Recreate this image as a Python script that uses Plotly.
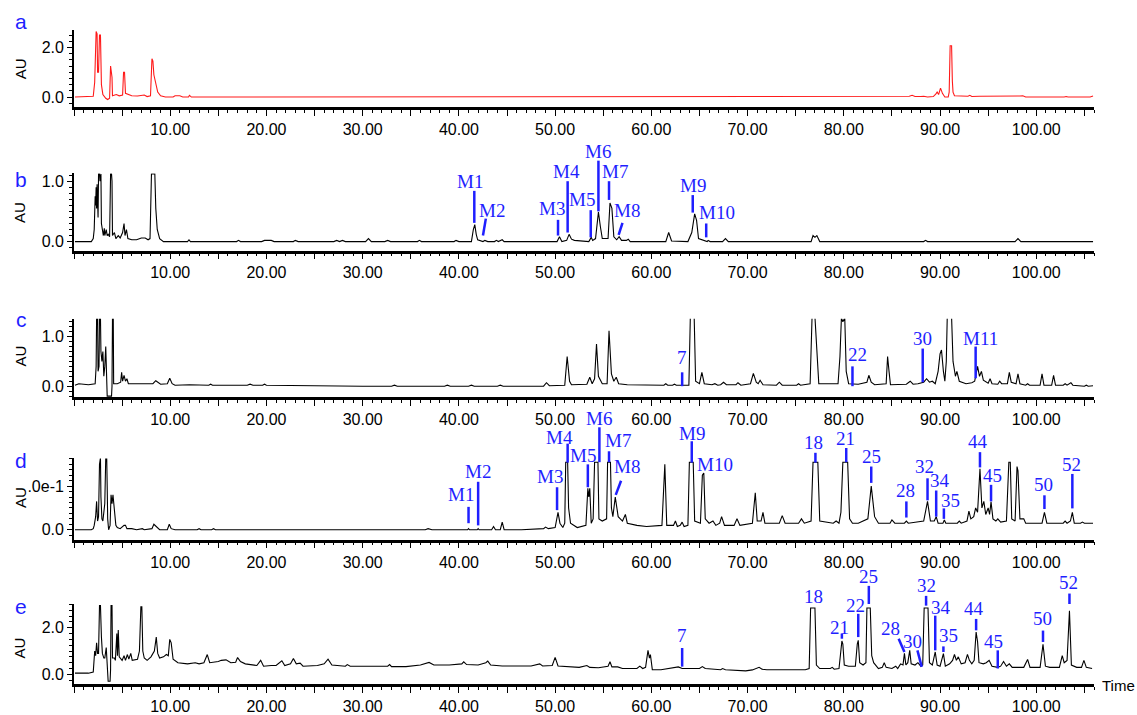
import plotly.graph_objects as go

# ------------------------------------------------------------------ data
# Chromatogram vertices (retention time in min, absorbance in AU)
A_TIME = [0.1, 1.5, 1.6, 2.0, 2.15, 2.3, 2.4, 2.45, 2.55, 2.65,
          2.75, 2.85, 3.0, 3.3, 3.5, 3.7, 3.8, 3.88, 3.95, 4.0,
          4.4, 4.7, 5.05, 5.15, 5.25, 5.35, 5.6, 6.0, 6.6, 7.0,
          7.3, 7.6, 7.95, 8.1, 8.2, 8.3, 8.45, 8.7, 9.0, 9.5,
          10.3, 10.5, 11.0, 11.3, 11.9, 12.0, 12.2, 33.8, 34.1, 34.4,
          74.2, 74.4, 74.6, 74.8, 78.4, 78.6, 79.0, 79.2, 79.4, 84.4,
          84.6, 84.9, 85.6, 86.0, 86.8, 87.1, 87.4, 88.0, 88.3, 88.7,
          89.3, 89.55, 89.7, 89.85, 90.05, 90.25, 90.5, 90.85, 90.95, 91.05,
          91.2, 91.28, 91.35, 91.5, 92.9, 93.1, 93.3, 94.1, 94.4, 96.2,
          96.6, 97.5, 98.3, 98.6, 98.9, 102.9, 103.1, 103.3, 105.6, 105.9]
A_AU = [0.0, 0.0, 0.02, 0.03, 0.6, 2.65, 2.55, 1.0, 1.0, 2.5,
        2.5, 0.5, 0.1, -0.05, -0.1, -0.05, 1.25, 0.8, 0.8, 0.05,
        0.1, 0.05, 0.08, 1.0, 1.0, 0.15, 0.12, 0.05, 0.04, 0.08,
        0.08, 0.02, 0.05, 1.55, 1.45, 0.9, 0.6, 0.2, 0.05, 0.0,
        0.0, 0.05, 0.05, 0.0, 0.0, 0.07, 0.0, 0.0, 0.03, 0.0,
        0.0, 0.03, 0.03, 0.0, 0.0, 0.03, 0.0, 0.03, 0.0, 0.0,
        0.03, 0.0, 0.02, 0.0, 0.03, 0.07, 0.02, 0.02, 0.03, 0.0,
        0.02, 0.12, 0.2, 0.1, 0.36, 0.15, 0.0, 0.0, 0.2, 2.07,
        2.07, 0.65, 0.2, 0.05, 0.03, 0.07, 0.02, 0.03, 0.03, 0.02,
        0.03, 0.01, 0.04, 0.05, 0.0, 0.0, 0.02, 0.0, 0.0, 0.04]

B_TIME = [0.1, 1.8, 2.0, 2.1, 2.2, 2.25, 2.3, 2.35, 2.4, 2.45,
          2.5, 2.55, 2.65, 2.7, 2.8, 2.85, 2.95, 3.05, 3.15, 3.2,
          3.35, 3.45, 3.55, 3.7, 3.8, 3.9, 3.95, 4.0, 4.2, 4.35,
          4.6, 4.8, 5.05, 5.2, 5.3, 5.45, 5.6, 6.0, 6.5, 7.0,
          7.4, 7.7, 7.9, 8.05, 8.4, 8.5, 8.65, 8.9, 9.3, 11.8,
          11.95, 12.1, 16.9, 17.1, 17.3, 19.5, 19.8, 20.5, 20.8, 22.8,
          23.0, 23.3, 27.0, 27.3, 27.6, 27.9, 28.2, 30.3, 30.6, 30.9,
          32.3, 32.6, 32.9, 35.7, 35.9, 36.1, 39.5, 39.7, 40.0, 41.3,
          41.5, 41.65, 41.8, 41.95, 42.5, 42.7, 43.0, 43.7, 43.9, 44.1,
          44.5, 44.7, 50.2, 50.45, 50.7, 51.2, 51.45, 51.7, 52.0, 53.5,
          53.75, 53.9, 54.2, 54.5, 54.7, 54.9, 55.5, 55.7, 55.9, 56.1,
          56.4, 56.65, 56.9, 57.4, 57.6, 57.8, 61.5, 61.8, 62.1, 63.8,
          64.2, 64.5, 64.7, 64.9, 65.8, 65.9, 66.1, 67.4, 67.7, 68.0,
          76.6, 76.8, 77.0, 77.2, 77.5, 88.3, 88.5, 88.7, 97.8, 98.1,
          98.4, 105.9]
B_AU = [0.0, 0.0, 0.05, 0.2, 0.75, 0.6, 0.9, 0.55, 0.95, 0.5,
        0.4, 1.12, 1.12, 1.0, 1.12, 0.3, 0.15, 0.1, 0.22, 0.1,
        0.2, 0.1, 0.12, 0.08, 1.12, 1.12, 1.0, 0.1, 0.15, 0.05,
        0.1, 0.06, 0.15, 0.3, 0.1, 0.2, 0.05, 0.03, 0.03, 0.06,
        0.06, 0.03, 0.05, 1.12, 1.12, 0.55, 0.2, 0.05, 0.0, 0.0,
        0.03, 0.0, 0.0, 0.02, 0.0, 0.0, 0.02, 0.02, 0.0, 0.0,
        0.02, 0.0, 0.0, 0.02, 0.0, 0.02, 0.0, 0.0, 0.05, 0.0,
        0.0, 0.02, 0.0, 0.0, 0.02, 0.0, 0.0, 0.02, 0.0, 0.0,
        0.2, 0.28, 0.12, 0.03, 0.0, 0.02, 0.0, 0.0, 0.02, 0.0,
        0.03, 0.0, 0.0, 0.08, 0.0, 0.02, 0.12, 0.04, 0.02, 0.0,
        0.07, 0.02, 0.05, 0.49, 0.25, 0.05, 0.05, 0.64, 0.55, 0.08,
        0.03, 0.08, 0.02, 0.02, 0.04, 0.0, 0.0, 0.15, 0.01, 0.0,
        0.15, 0.46, 0.35, 0.05, 0.0, 0.02, 0.0, 0.0, 0.05, 0.0,
        0.0, 0.1, 0.07, 0.1, 0.0, 0.0, 0.02, 0.0, 0.0, 0.05,
        0.0, 0.0]

C_TIME = [0.1, 0.5, 1.5, 2.2, 2.3, 2.35, 2.45, 2.5, 2.6, 2.65,
          2.75, 2.8, 2.9, 3.0, 3.1, 3.2, 3.3, 3.35, 3.45, 3.9,
          3.95, 4.0, 4.08, 4.12, 4.5, 4.85, 4.95, 5.05, 5.2, 5.35,
          5.5, 5.65, 8.2, 8.5, 8.8, 9.0, 9.7, 9.95, 10.2, 10.5,
          12.0, 14.0, 14.2, 14.4, 18.0, 18.3, 18.6, 19.6, 19.8, 20.0,
          30.0, 33.0, 33.3, 33.6, 38.5, 38.8, 39.1, 41.0, 41.3, 41.6,
          44.0, 44.3, 44.6, 48.8, 49.1, 49.4, 51.0, 51.25, 51.5, 51.7,
          53.3, 53.6, 53.85, 54.1, 54.3, 54.5, 54.9, 55.4, 55.6, 55.85,
          56.1, 56.35, 56.6, 57.5, 61.3, 61.5, 61.7, 62.2, 62.4, 62.6,
          63.9, 64.05, 64.45, 64.6, 65.0, 65.25, 65.5, 66.3, 66.6, 66.9,
          67.2, 67.5, 67.8, 68.8, 69.0, 69.3, 70.3, 70.6, 70.9, 71.1,
          71.3, 71.6, 73.0, 73.3, 73.6, 75.1, 75.3, 75.5, 76.5, 76.7,
          77.0, 77.2, 77.4, 79.4, 79.6, 79.75, 79.9, 80.1, 80.25, 80.5,
          81.5, 82.4, 82.6, 82.85, 83.2, 84.4, 84.55, 84.7, 84.85, 86.5,
          86.9, 87.2, 87.7, 88.3, 88.6, 88.9, 89.2, 89.5, 89.8, 90.0,
          90.15, 90.35, 90.5, 90.65, 90.75, 91.2, 91.35, 91.6, 91.75, 92.0,
          92.7, 93.3, 93.6, 93.9, 94.1, 94.3, 94.5, 95.0, 95.2, 95.4,
          96.0, 96.2, 96.4, 97.0, 97.2, 97.4, 97.9, 98.1, 98.3, 98.9,
          99.1, 99.3, 100.4, 100.6, 100.8, 101.6, 101.8, 102.0, 102.8, 103.0,
          103.2, 103.6, 103.8, 105.0, 105.2, 105.4, 105.9]
C_AU = [0.02, 0.05, 0.03, 0.05, 0.4, 1.4, 1.4, 0.3, 0.4, 1.4,
        1.4, 0.7, 0.5, 0.7, 0.2, 0.4, 0.8, 0.2, -0.2, -0.2,
        0.0, 1.4, 1.4, 0.05, 0.05, 0.08, 0.28, 0.1, 0.22, 0.1,
        0.15, 0.05, 0.05, 0.11, 0.06, 0.04, 0.05, 0.16, 0.05, 0.02,
        0.03, 0.02, 0.04, 0.02, 0.02, 0.04, 0.02, 0.02, 0.04, 0.02,
        0.0, 0.0, 0.02, 0.0, 0.0, 0.02, 0.0, 0.0, 0.02, 0.0,
        0.0, 0.02, 0.0, 0.0, 0.07, 0.01, 0.02, 0.6, 0.1, 0.03,
        0.04, 0.18, 0.05, 0.15, 0.85, 0.2, 0.05, 0.05, 1.12, 0.25,
        0.1, 0.18, 0.05, 0.03, 0.02, 0.05, 0.02, 0.02, 0.04, 0.02,
        0.02, 1.4, 1.4, 0.1, 0.05, 0.28, 0.05, 0.03, 0.05, 0.02,
        0.03, 0.08, 0.03, 0.03, 0.07, 0.02, 0.05, 0.26, 0.08, 0.05,
        0.12, 0.03, 0.02, 0.08, 0.02, 0.02, 0.05, 0.02, 0.05, 1.4,
        1.4, 0.6, 0.05, 0.05, 0.6, 1.38, 1.3, 1.38, 0.3, 0.05,
        0.04, 0.08, 0.22, 0.08, 0.03, 0.05, 0.6, 0.3, 0.03, 0.04,
        0.1, 0.04, 0.05, 0.08, 0.15, 0.08, 0.1, 0.05, 0.3, 0.65,
        0.73, 0.3, 0.1, 0.5, 1.4, 1.4, 0.5, 0.2, 0.3, 0.1,
        0.05, 0.07, 0.1, 0.4, 0.2, 0.3, 0.12, 0.06, 0.15, 0.05,
        0.04, 0.1, 0.05, 0.05, 0.28, 0.08, 0.05, 0.25, 0.05, 0.02,
        0.05, 0.02, 0.02, 0.25, 0.02, 0.02, 0.22, 0.02, 0.02, 0.05,
        0.02, 0.07, 0.02, 0.0, 0.02, 0.0, 0.01]

D_TIME = [0.1, 1.8, 2.0, 2.1, 2.25, 2.35, 2.45, 2.55, 2.65, 2.75,
          2.8, 2.9, 3.0, 3.1, 3.2, 3.3, 3.4, 3.45, 3.5, 3.6,
          3.75, 3.85, 3.95, 4.05, 4.15, 4.25, 4.35, 4.5, 4.8, 5.2,
          5.35, 5.5, 6.0, 6.5, 7.1, 7.3, 8.1, 8.3, 8.5, 8.7,
          8.9, 9.7, 9.9, 10.1, 10.5, 12.8, 13.0, 13.2, 14.3, 14.5,
          14.7, 36.5, 36.8, 37.2, 40.9, 41.0, 41.1, 41.9, 42.0, 42.1,
          43.4, 43.6, 43.8, 44.3, 44.5, 44.7, 46.5, 48.8, 49.0, 49.3,
          50.0, 50.3, 50.5, 50.8, 51.0, 51.1, 51.3, 51.4, 51.6, 52.3,
          53.2, 53.4, 53.5, 53.6, 53.75, 53.95, 54.1, 54.45, 54.55, 54.9,
          55.35, 55.45, 55.75, 55.85, 56.0, 56.25, 56.4, 56.55, 57.0, 57.3,
          57.5, 58.5, 59.5, 61.1, 61.4, 61.6, 62.3, 62.5, 62.7, 63.0,
          63.2, 63.4, 63.8, 63.95, 64.35, 64.5, 65.1, 65.3, 65.45, 65.6,
          66.0, 66.4, 66.7, 67.1, 67.3, 67.6, 68.6, 68.9, 69.2, 70.5,
          70.8, 71.0, 71.4, 71.6, 71.8, 73.3, 73.6, 73.9, 75.3, 75.6,
          75.9, 76.6, 76.8, 77.3, 77.5, 78.9, 79.2, 79.5, 79.7, 79.9,
          80.4, 80.6, 80.9, 81.5, 82.5, 82.85, 83.2, 83.6, 84.8, 85.0,
          85.3, 86.3, 86.5, 86.7, 88.3, 88.7, 89.0, 89.4, 89.6, 89.8,
          90.3, 90.45, 90.6, 91.8, 92.0, 92.2, 92.8, 93.0, 93.2, 93.5,
          93.7, 93.9, 94.15, 94.35, 94.55, 94.75, 95.0, 95.15, 95.3, 95.5,
          95.8, 96.0, 96.3, 96.9, 97.15, 97.3, 97.45, 97.8, 98.0, 98.1,
          98.3, 98.7, 98.9, 100.6, 100.85, 101.1, 102.8, 103.0, 103.2, 103.55,
          103.75, 103.95, 104.6, 104.8, 105.0, 105.9]
D_AU = [0.0, 0.0, 0.005, 0.02, 0.06, 0.13, 0.04, 0.06, 0.3, 0.33,
        0.15, 0.05, 0.04, 0.1, 0.12, 0.33, 0.33, 0.2, 0.05, 0.0,
        0.02, 0.16, 0.12, 0.16, 0.1, 0.06, 0.02, 0.01, 0.005, 0.02,
        0.02, 0.005, 0.005, 0.0, 0.005, 0.0, 0.005, 0.025, 0.015, 0.01,
        0.0, 0.0, 0.025, 0.005, 0.0, 0.0, 0.005, 0.0, 0.0, 0.005,
        0.0, 0.0, 0.005, 0.0, 0.0, 0.005, 0.0, 0.0, 0.005, 0.0,
        0.0, 0.015, 0.0, 0.0, 0.035, 0.0, 0.0, 0.005, 0.012, 0.005,
        0.01, 0.08, 0.03, 0.01, 0.03, 0.31, 0.31, 0.1, 0.03, 0.01,
        0.02, 0.19, 0.15, 0.19, 0.03, 0.05, 0.31, 0.31, 0.05, 0.04,
        0.05, 0.31, 0.31, 0.1, 0.06, 0.15, 0.1, 0.06, 0.04, 0.07,
        0.03, 0.02, 0.015, 0.02, 0.3, 0.02, 0.02, 0.04, 0.015, 0.02,
        0.035, 0.015, 0.02, 0.31, 0.31, 0.04, 0.03, 0.25, 0.26, 0.05,
        0.03, 0.04, 0.02, 0.03, 0.06, 0.02, 0.02, 0.05, 0.02, 0.03,
        0.17, 0.04, 0.04, 0.08, 0.03, 0.03, 0.065, 0.03, 0.03, 0.05,
        0.03, 0.04, 0.31, 0.31, 0.04, 0.03, 0.04, 0.03, 0.08, 0.31,
        0.31, 0.05, 0.03, 0.03, 0.05, 0.2, 0.06, 0.03, 0.03, 0.045,
        0.03, 0.03, 0.04, 0.03, 0.04, 0.13, 0.04, 0.04, 0.06, 0.03,
        0.03, 0.045, 0.03, 0.03, 0.04, 0.03, 0.04, 0.085, 0.05, 0.06,
        0.1, 0.08, 0.28, 0.1, 0.13, 0.07, 0.1, 0.07, 0.128, 0.05,
        0.04, 0.05, 0.035, 0.04, 0.31, 0.31, 0.05, 0.04, 0.29, 0.27,
        0.05, 0.05, 0.03, 0.03, 0.08, 0.03, 0.03, 0.04, 0.03, 0.04,
        0.08, 0.03, 0.03, 0.035, 0.03, 0.03]

E_TIME = [0.1, 1.5, 2.0, 2.15, 2.25, 2.35, 2.45, 2.55, 2.65, 2.75,
          2.85, 2.95, 3.1, 3.2, 3.35, 3.45, 3.55, 3.75, 3.8, 3.85,
          3.95, 4.0, 4.2, 4.3, 4.45, 4.52, 4.6, 4.7, 5.0, 5.2,
          5.35, 5.55, 5.7, 5.9, 6.05, 6.6, 6.8, 6.95, 7.05, 7.15,
          7.3, 7.6, 8.0, 8.35, 8.55, 8.7, 8.9, 9.3, 9.6, 9.8,
          9.95, 10.1, 10.3, 10.8, 11.8, 12.6, 13.0, 13.5, 13.85, 14.1,
          15.0, 15.3, 15.8, 16.3, 16.8, 17.0, 17.3, 17.8, 18.5, 19.0,
          19.4, 19.7, 20.5, 21.0, 21.6, 21.9, 22.5, 22.8, 23.1, 23.5,
          23.8, 25.3, 26.0, 26.4, 26.8, 28.2, 28.4, 28.7, 30.5, 32.6,
          32.8, 33.0, 34.5, 36.0, 36.9, 37.4, 39.0, 40.3, 40.5, 40.8,
          42.0, 42.8, 43.0, 43.3, 44.5, 47.5, 48.4, 48.7, 49.7, 50.0,
          50.3, 51.5, 52.5, 53.3, 53.6, 54.5, 55.5, 55.7, 55.9, 56.5,
          57.0, 58.5, 58.8, 59.1, 59.4, 59.65, 59.8, 59.9, 60.1, 61.0,
          62.0, 62.5, 62.8, 63.2, 65.0, 65.3, 65.6, 67.2, 67.4, 67.7,
          69.8, 70.5, 71.0, 71.2, 71.5, 72.0, 73.0, 74.5, 76.0, 76.4,
          76.55, 77.0, 77.15, 77.5, 78.6, 78.8, 79.0, 79.5, 79.7, 79.8,
          79.9, 80.05, 80.5, 81.2, 81.4, 81.5, 81.65, 82.0, 82.3, 82.4,
          82.75, 82.9, 83.1, 83.6, 84.0, 84.2, 84.4, 85.0, 85.4, 85.6,
          85.9, 86.15, 86.3, 86.45, 86.65, 86.85, 87.0, 87.4, 87.7, 88.0,
          88.2, 88.35, 88.75, 88.9, 89.2, 89.5, 89.7, 90.0, 90.35, 90.55,
          91.0, 91.3, 91.5, 91.7, 91.9, 92.2, 92.6, 92.85, 93.05, 93.3,
          93.55, 93.75, 93.9, 94.05, 94.5, 94.8, 95.1, 95.4, 96.0, 96.3,
          96.6, 96.9, 97.2, 97.5, 98.7, 99.1, 99.35, 100.4, 100.7, 100.95,
          101.4, 102.4, 102.7, 102.9, 103.2, 103.45, 103.65, 104.2, 104.7, 104.95,
          105.2, 105.8]
E_AU = [0.05, 0.05, 0.1, 1.0, 0.8, 1.35, 0.9, 0.9, 2.95, 2.95,
        1.6, 0.9, 0.7, 0.7, 1.15, 0.3, -0.3, -0.3, 0.2, 2.95,
        2.95, 0.7, 0.7, 0.6, 1.75, 0.8, 1.9, 0.75, 0.6, 0.8,
        0.6, 0.85, 0.65, 0.9, 0.6, 0.65, 1.0, 2.9, 2.9, 1.0,
        0.7, 0.6, 0.75, 1.0, 1.6, 0.9, 0.7, 0.75, 0.85, 0.8,
        1.5, 1.35, 0.65, 0.5, 0.45, 0.5, 0.45, 0.5, 0.85, 0.5,
        0.55, 0.6, 0.62, 0.5, 0.52, 0.72, 0.55, 0.45, 0.4, 0.38,
        0.6, 0.35, 0.38, 0.38, 0.58, 0.38, 0.45, 0.68, 0.45, 0.48,
        0.35, 0.38, 0.45, 0.65, 0.4, 0.35, 0.42, 0.35, 0.35, 0.35,
        0.42, 0.33, 0.33, 0.4, 0.51, 0.4, 0.4, 0.45, 0.54, 0.42,
        0.4, 0.5, 0.57, 0.4, 0.36, 0.36, 0.45, 0.36, 0.38, 0.73,
        0.36, 0.33, 0.3, 0.38, 0.3, 0.28, 0.35, 0.54, 0.32, 0.32,
        0.25, 0.25, 0.35, 0.25, 0.3, 1.03, 0.7, 0.85, 0.2, 0.2,
        0.25, 0.3, 0.32, 0.25, 0.25, 0.33, 0.25, 0.2, 0.25, 0.2,
        0.15, 0.19, 0.25, 0.3, 0.22, 0.2, 0.2, 0.2, 0.2, 0.25,
        2.85, 2.85, 0.4, 0.25, 0.25, 0.3, 0.22, 0.25, 1.1, 1.43,
        1.3, 0.4, 0.35, 0.35, 1.3, 1.46, 0.5, 0.4, 0.5, 2.85,
        2.85, 0.8, 0.5, 0.25, 0.3, 0.5, 0.3, 0.25, 0.35, 0.25,
        0.45, 0.4, 0.9, 0.4, 0.5, 1.03, 0.45, 0.4, 0.5, 0.35,
        0.4, 2.85, 2.85, 0.5, 0.4, 0.96, 0.4, 0.35, 0.89, 0.35,
        0.45, 0.6, 0.85, 0.6, 0.75, 0.45, 0.5, 0.86, 0.6, 0.45,
        0.6, 1.82, 1.4, 0.5, 0.45, 0.5, 0.6, 0.35, 0.3, 0.35,
        0.55, 0.35, 0.45, 0.3, 0.3, 0.64, 0.3, 0.3, 1.29, 0.35,
        0.3, 0.3, 0.8, 0.5, 0.6, 2.73, 0.4, 0.3, 0.3, 0.6,
        0.3, 0.25]

PANEL_LETTERS = ["a", "b", "c", "d", "e"]
Y_TICK_VALUES = [[0.0, 2.0], [0.0, 1.0], [0.0, 1.0], [0.0, 0.2], [0.0, 2.0]]
Y_TICK_TEXT = [["0.0", "2.0"], ["0.0", "1.0"], ["0.0", "1.0"], ["0.0", ".0e-1"], ["0.0", "2.0"]]
X_LABELLED_TIMES = [10, 20, 30, 40, 50, 60, 70, 80, 90, 100]

# peak labels: name, marker line (t0, v0, t1, v1), text position (t, v)
B_NAMES = ["M1", "M2", "M3", "M4", "M5", "M6", "M7", "M8", "M9", "M10"]
B_LINES = [(41.6, 0.31, 41.6, 0.84), (42.5, 0.1, 42.8, 0.38), (50.3, 0.1, 50.3, 0.36),
           (51.3, 0.15, 51.3, 1.0), (53.7, 0.07, 53.7, 0.52), (54.5, 0.5, 54.5, 1.34),
           (55.6, 0.69, 55.6, 1.0), (56.6, 0.11, 57.0, 0.31), (64.3, 0.48, 64.3, 0.77),
           (65.7, 0.07, 65.7, 0.3)]
B_TEXT = [(41.2, 1.0), (43.4, 0.52), (49.7, 0.54), (51.2, 1.16), (52.8, 0.7),
          (54.5, 1.49), (56.2, 1.16), (57.5, 0.52), (64.3, 0.93), (66.8, 0.48)]

C_NAMES = ["7", "22", "30", "M11"]
C_LINES = [(63.2, 0.0, 63.2, 0.28), (80.9, 0.0, 80.9, 0.4), (88.2, 0.08, 88.2, 0.76),
           (93.7, 0.16, 93.7, 0.8)]
C_TEXT = [(63.2, 0.58), (81.4, 0.64), (88.2, 0.97), (94.2, 0.97)]

D_NAMES = ["M1", "M2", "M3", "M4", "M5", "M6", "M7", "M8", "M9", "M10",
           "18", "21", "25", "28", "32", "34", "35", "44", "45", "50", "52"]
D_LINES = [(41.0, 0.03, 41.0, 0.105), (42.0, 0.02, 42.0, 0.22), (50.2, 0.09, 50.2, 0.195),
           (51.3, 0.308, 51.3, 0.395), (53.4, 0.195, 53.4, 0.30), (54.6, 0.31, 54.6, 0.47),
           (55.6, 0.31, 55.6, 0.36), (56.3, 0.16, 56.85, 0.225), (64.2, 0.308, 64.2, 0.406),
           None,
           (77.05, 0.308, 77.05, 0.353), (80.25, 0.31, 80.25, 0.375), (82.85, 0.215, 82.85, 0.29),
           (86.5, 0.056, 86.5, 0.13), (88.7, 0.135, 88.7, 0.236), (89.6, 0.06, 89.6, 0.18),
           (90.4, 0.05, 90.4, 0.098), (94.15, 0.286, 94.15, 0.356), (95.3, 0.13, 95.3, 0.206),
           (100.85, 0.095, 100.85, 0.158), (103.75, 0.098, 103.75, 0.256)]
D_TEXT = [(40.2, 0.16), (42.0, 0.265), (49.5, 0.244), (50.5, 0.422), (52.9, 0.34),
          (54.6, 0.51), (56.5, 0.41), (57.5, 0.29), (64.2, 0.44), (66.6, 0.30),
          (76.9, 0.40), (80.2, 0.42), (82.85, 0.335), (86.4, 0.182), (88.4, 0.29),
          (90.0, 0.225), (91.1, 0.133), (93.9, 0.406), (95.4, 0.25), (100.8, 0.206), (103.7, 0.30)]

E_NAMES = ["7", "18", "21", "22", "25", "28", "30", "32", "34", "35", "44", "45", "50", "52"]
E_LINES = [(63.2, 0.33, 63.2, 1.13), None, (79.8, 1.53, 79.8, 1.75), (81.5, 1.6, 81.5, 2.6),
           (82.6, 3.02, 82.6, 3.8), (85.7, 1.53, 86.3, 0.96), (87.65, 1.03, 88.1, 0.32),
           (88.55, 2.95, 88.55, 3.37), (89.5, 1.03, 89.5, 2.52), (90.35, 0.96, 90.35, 1.2),
           (93.75, 1.89, 93.75, 2.38), (96.0, 0.25, 96.0, 1.03), (100.7, 1.39, 100.7, 1.88),
           (103.45, 3.02, 103.45, 3.47)]
E_TEXT = [(63.2, 1.68), (76.8, 3.33), (79.6, 2.02), (81.2, 2.97), (82.55, 4.2), (84.9, 1.98),
          (87.1, 1.4), (88.55, 3.8), (90.1, 2.85), (90.9, 1.67), (93.5, 2.81), (95.6, 1.43),
          (100.65, 2.38), (103.4, 3.94)]

# ------------------------------------------------------------------ layout settings
W, H = 1137, 715
X_LEFT_PX, X_RIGHT_PX = 74, 1094
X_RANGE = [0, 106]
PANEL_TOP_PX = [30, 175, 322, 463, 610]
PANEL_BOTTOM_PX = [108, 253, 401, 545, 691]
Y_RANGES = [(-0.4, 2.72), (-0.148, 1.131), (-0.22, 1.36), (-0.0455, 0.327), (-0.4255, 3.02)]
Y_MINOR_STEP = [0.25, 0.1, 0.1, 0.025, 0.25]
LETTER_Y_PX = [22, 181, 323, 465, 612]
AU_Y_PX = [70, 215, 360, 503, 655]
TRACE_COLORS = ["#ff1a1a", "black", "black", "black", "black"]
BLUE = "#1f1fff"
SANS = "Liberation Sans, Arial, sans-serif"
SERIF = "Liberation Serif, Times New Roman, serif"

SERIES = [(A_TIME, A_AU), (B_TIME, B_AU), (C_TIME, C_AU), (D_TIME, D_AU), (E_TIME, E_AU)]
LABELS = [None, (B_NAMES, B_LINES, B_TEXT), (C_NAMES, C_LINES, C_TEXT),
          (D_NAMES, D_LINES, D_TEXT), (E_NAMES, E_LINES, E_TEXT)]

fig = go.Figure()
layout = {}
annotations = []
shapes = []

major_x = list(range(0, 110, 5))
major_x_text = [f"{v:.2f}" if v in X_LABELLED_TIMES else "" for v in major_x]

for i in range(5):
    n = "" if i == 0 else str(i + 1)
    t, v = SERIES[i]
    fig.add_trace(go.Scatter(x=t, y=v, mode="lines",
                             line=dict(color=TRACE_COLORS[i], width=1.1),
                             xaxis="x" + n, yaxis="y" + n,
                             showlegend=False, hoverinfo="skip"))
    ydom = [1 - PANEL_BOTTOM_PX[i] / H, 1 - PANEL_TOP_PX[i] / H]
    layout["xaxis" + n] = dict(
        domain=[X_LEFT_PX / W, X_RIGHT_PX / W], range=X_RANGE, anchor="y" + n,
        showline=True, linecolor="black", linewidth=2.5, mirror=False,
        ticks="outside", ticklen=6, tickwidth=1.3, tickcolor="black",
        tickmode="array", tickvals=major_x, ticktext=major_x_text,
        minor=dict(tickmode="linear", tick0=0, dtick=1, ticks="outside",
                   ticklen=3, tickwidth=1, tickcolor="black"),
        showgrid=False, zeroline=False,
        tickfont=dict(family=SANS, size=16, color="black"))
    layout["yaxis" + n] = dict(
        domain=ydom, range=list(Y_RANGES[i]), anchor="x" + n,
        showline=True, linecolor="black", linewidth=1.8,
        ticks="outside", ticklen=5, tickwidth=1.3, tickcolor="black",
        tickmode="array", tickvals=Y_TICK_VALUES[i], ticktext=Y_TICK_TEXT[i],
        minor=dict(tickmode="linear", tick0=0, dtick=Y_MINOR_STEP[i], ticks="outside",
                   ticklen=3, tickwidth=1, tickcolor="black"),
        showgrid=False, zeroline=False,
        tickfont=dict(family=SANS, size=16, color="black"))

    annotations.append(dict(text=PANEL_LETTERS[i], xref="paper", yref="paper",
                            x=21 / W, y=1 - LETTER_Y_PX[i] / H, showarrow=False,
                            xanchor="center", yanchor="middle",
                            font=dict(family=SANS, size=21, color=BLUE)))
    annotations.append(dict(text="AU", xref="paper", yref="paper",
                            x=20 / W, y=1 - AU_Y_PX[i] / H, showarrow=False,
                            textangle=-90, xanchor="center", yanchor="middle",
                            font=dict(family=SANS, size=15, color="black")))

    if LABELS[i] is not None:
        names, lines, texts = LABELS[i]
        r0, r1 = Y_RANGES[i]

        def frac(val, r0=r0, r1=r1):
            return (val - r0) / (r1 - r0)

        for name, ln, (tx, ty) in zip(names, lines, texts):
            annotations.append(dict(text=name, xref="x" + n, yref="y" + n + " domain",
                                    x=tx, y=frac(ty),
                                    showarrow=False, xanchor="center", yanchor="middle",
                                    font=dict(family=SERIF, size=19, color=BLUE)))
            if ln is not None:
                x0, y0, x1, y1 = ln
                shapes.append(dict(type="line", xref="x" + n, yref="y" + n + " domain",
                                   x0=x0, x1=x1, y0=frac(y0), y1=frac(y1),
                                   line=dict(color=BLUE, width=2.5)))

annotations.append(dict(text="Time", xref="paper", yref="paper", x=1100 / W,
                        y=1 - 692 / H, showarrow=False, xanchor="left", yanchor="middle",
                        font=dict(family=SANS, size=15, color="black")))

fig.update_layout(width=W, height=H, margin=dict(l=0, r=0, t=0, b=0),
                  paper_bgcolor="white", plot_bgcolor="white",
                  annotations=annotations, shapes=shapes, **layout)

fig.write_html("out.html")
